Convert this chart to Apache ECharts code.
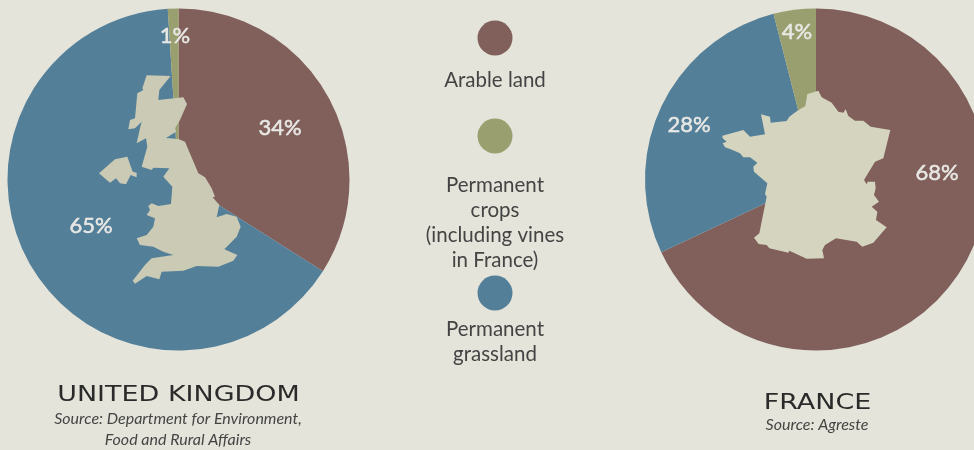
<!DOCTYPE html>
<html><head><meta charset="utf-8">
<style>html,body{margin:0;padding:0;background:#e4e4da}#c{width:974px;height:450px}</style>
<script src="https://cdn.jsdelivr.net/npm/echarts@6/dist/echarts.min.js"></script>
</head><body><div id="c"></div>
<script>
const categories = ['Arable land', 'Permanent crops', 'Permanent grassland'];
const ukValues = [34, 1, 65];
const franceValues = [68, 4, 28];
const legendLabels = ['Arable land', 'Permanent\ncrops\n(including vines\nin France)', 'Permanent\ngrassland'];
const countries = ['UNITED KINGDOM', 'FRANCE'];
const sources = ['Source: Department for Environment,\nFood and Rural Affairs', 'Source: Agreste'];
const colors = ['#81605c', '#999f6f', '#547f99'];
const sliceOrder = [0, 2, 1];

// Country silhouettes, traced in zoomed crops (3x) of the picture
const gbOutline = [[170,226],[242,228],[208,270],[205,300],[280,292],[291,312],[270,360],[255,385],[258,395],[228,414],[265,417],[285,425],[325,520],[345,532],[365,565],[375,590],[368,592],[388,615],[380,652],[410,642],[440,650],[452,680],[440,710],[403,748],[442,765],[430,782],[385,800],[320,798],[280,812],[215,815],[208,838],[170,828],[135,851],[128,842],[165,795],[185,775],[250,765],[220,755],[190,740],[150,735],[140,715],[170,705],[190,680],[195,655],[170,645],[180,630],[175,618],[185,610],[205,618],[243,612],[247,560],[220,530],[238,505],[190,503],[185,510],[155,500],[172,440],[168,415],[140,430],[150,385],[155,365],[135,385],[115,388],[120,360],[135,355],[142,280],[160,270],[157,265]];
const niOutline = [[27,520],[75,478],[112,470],[128,515],[140,518],[140,532],[122,525],[108,553],[90,550],[78,535],[60,548]];
const frOutline = [[292,122],[316,108],[322,72],[355,62],[365,82],[380,90],[395,98],[415,125],[430,128],[437,118],[445,138],[465,152],[490,152],[512,170],[571,180],[550,265],[525,275],[492,330],[500,343],[503,335],[525,335],[527,355],[522,375],[537,395],[515,410],[532,425],[528,450],[560,472],[520,518],[487,530],[470,515],[408,505],[375,525],[367,540],[372,565],[320,566],[268,542],[265,548],[208,535],[200,525],[176,522],[162,503],[178,490],[195,405],[200,380],[195,372],[202,340],[162,305],[160,290],[172,278],[150,262],[130,262],[120,250],[92,238],[75,232],[68,220],[80,215],[68,205],[67,197],[130,180],[150,200],[195,193],[183,133],[210,140],[212,158],[260,153],[268,140]];

const font = 'Lato';
const place = (pts, ox, oy) => pts.map(p => [ox + p[0] / 3, oy + p[1] / 3]);
const land = (pts, fill) => ({type:'polygon', z:10, silent:true, shape:{points:pts}, style:{fill}});

function pie(values, cx, labelPos) {
  const ordered = sliceOrder.map(i => ({name:categories[i], value:values[i], itemStyle:{color:colors[i]}}));
  return {
    type:'pie', center:[cx,179.5], radius:[0,171], startAngle:90, clockwise:true,
    silent:true, animation:false, z:2,
    itemStyle:{borderWidth:0},
    label:{show:true, position:'inside', color:'#e8e8e4', fontFamily:font, fontSize:22, fontWeight:400, textBorderColor:'#e8e8e4', textBorderWidth:0.5, formatter:'{c}%', align:'center', verticalAlign:'middle'},
    labelLine:{show:false},
    labelLayout: p => ({x:labelPos[p.dataIndex][0], y:labelPos[p.dataIndex][1], align:'center', verticalAlign:'middle'}),
    data: ordered
  };
}

const legendY = [38, 136, 293];
const legendTextTop = [68, 173, 317];
const legendGraphics = [];
categories.forEach((c,i)=>{
  legendGraphics.push({type:'circle', z:5, silent:true, shape:{cx:495, cy:legendY[i], r:17.5}, style:{fill:colors[i]}});
  legendGraphics.push({type:'text', z:5, silent:true, x:495, y:legendTextTop[i], style:{text:legendLabels[i], fill:'#444', font:'20.5px '+font, lineHeight:25, align:'center', verticalAlign:'top'}});
});
const titleText = (t, x, y) => ({type:'text', z:5, silent:true, x, y, scaleX:1.225, style:{text:t, fill:'#2a2a2a', font:'22px "DejaVu Sans"', align:'center', verticalAlign:'middle'}});

const chart = echarts.init(document.getElementById('c'), null, {renderer:'canvas'});
chart.setOption({
  backgroundColor:'#e4e4da',
  animation:false,
  series:[
    pie(ukValues, 178.5, [[280,128],[91,226],[175,36]]),
    pie(franceValues, 816, [[937,173],[689,125],[797,32]])
  ],
  graphic:[
    land(place(gbOutline,90,0),'#cbcbb5'),
    land(place(niOutline,90,0),'#cbcbb5'),
    land(place(frOutline,700,70),'#d4d4bf'),
    ...legendGraphics,
    titleText(countries[0],178.5,395),
    titleText(countries[1],817.5,403),
    {type:'text', z:5, silent:true, x:178, y:408, style:{text:sources[0], fill:'#444', font:'italic 16px '+font, lineHeight:21, align:'center', verticalAlign:'top'}},
    {type:'text', z:5, silent:true, x:817, y:414, style:{text:sources[1], fill:'#444', font:'italic 16px '+font, lineHeight:21, align:'center', verticalAlign:'top'}}
  ]
});
</script></body></html>
